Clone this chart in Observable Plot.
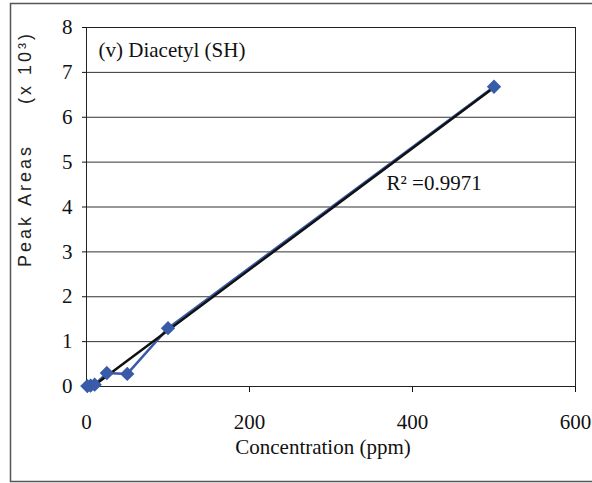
<!DOCTYPE html>
<html>
<head>
<meta charset="utf-8">
<script src="https://cdn.jsdelivr.net/npm/d3@7"></script>
<script src="https://cdn.jsdelivr.net/npm/@observablehq/plot@0.6"></script>
<style>
  html, body { margin: 0; padding: 0; background: #fff; }
</style>
</head>
<body>
<div id="chart"></div>
<script>
// Calibration data: diacetyl (SH)
const concentration = [1, 5, 10, 25, 50, 100, 500];          // ppm
const peakArea = [0.01, 0.02, 0.04, 0.30, 0.28, 1.30, 6.68];  // x 10^3
const xTicks = [0, 200, 400, 600];
const yTicks = [0, 1, 2, 3, 4, 5, 6, 7, 8];
const titleText = "(v) Diacetyl (SH)";
const r2Text = "R\u00b2 =0.9971";
const xLabel = "Concentration (ppm)";
const yLabel = "Peak\u00a0Areas\u00a0\u00a0\u00a0\u00a0\u00a0(x\u00a010\u00b3)";

const data = concentration.map((c, i) => ({c, a: peakArea[i]}));
const blue = "#3a5ba8";

const chart = Plot.plot({
  width: 592,
  height: 483,
  marginLeft: 86,
  marginRight: 17,
  marginTop: 27,
  marginBottom: 97,
  style: {fontFamily: "'Liberation Serif', 'Times New Roman', serif", fontSize: "21px", color: "#111", background: "#fff"},
  x: {domain: [0, 600], ticks: xTicks, tickSize: 6, tickPadding: 22, label: null},
  y: {domain: [0, 8], ticks: yTicks, tickSize: 4, tickPadding: 10, label: null},
  marks: [
    // outer chart border
    Plot.frame({stroke: "#555", strokeWidth: 1.5, insetLeft: -76, insetTop: -24, insetBottom: -95, insetRight: -40}),
    Plot.gridY(yTicks, {stroke: "#333", strokeOpacity: 1, strokeWidth: 1}),
    Plot.frame({stroke: "#222", strokeWidth: 1}),
    Plot.line(data, {x: "c", y: "a", stroke: blue, strokeWidth: 2.5}),
    Plot.linearRegressionY(data, {x: "c", y: "a", stroke: "#111", strokeWidth: 2.5, ci: 0, clip: true}),
    Plot.dot(data, {x: "c", y: "a", symbol: "diamond2", r: 5.5, fill: blue, stroke: blue, strokeWidth: 1.5}),
    Plot.text([titleText], {text: d => d, frameAnchor: "top-left", textAnchor: "start", lineAnchor: "middle", dx: 12, dy: 23, fontSize: 21, fill: "#111"}),
    Plot.text([r2Text], {text: d => d, frameAnchor: "top-left", textAnchor: "start", lineAnchor: "middle", dx: 300, dy: 156, fontSize: 21, fill: "#111"}),
    Plot.text([xLabel], {text: d => d, frameAnchor: "bottom", lineAnchor: "middle", dx: -8, dy: 61, fontSize: 21, fill: "#111"}),
    Plot.text([yLabel], {text: d => d, frameAnchor: "left", rotate: -90, textAnchor: "middle", lineAnchor: "middle", dx: -61, dy: -58, fontSize: 18, fontFamily: "'Liberation Sans', Arial, sans-serif", fill: "#222"})
  ]
});

// spaced lettering for the vertical axis title
d3.select(chart).selectAll("text")
  .filter(function () { return this.textContent.startsWith("Peak"); })
  .attr("letter-spacing", "3px");

document.getElementById("chart").appendChild(chart);
</script>
</body>
</html>
